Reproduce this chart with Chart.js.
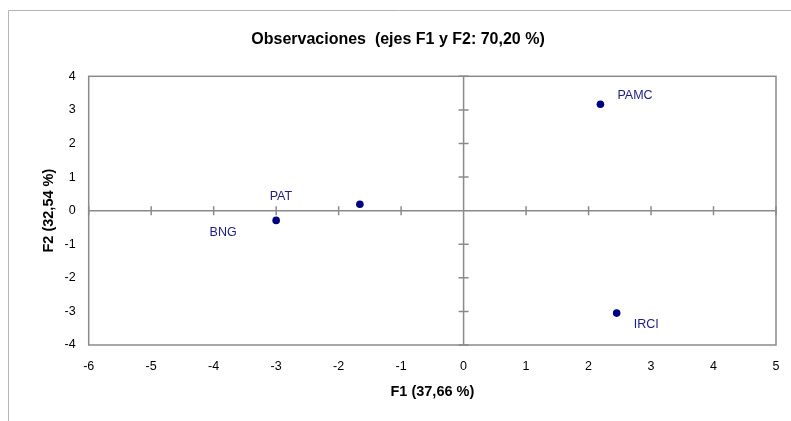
<!DOCTYPE html>
<html>
<head>
<meta charset="utf-8">
<script src="https://cdn.jsdelivr.net/npm/chart.js@4.4.1/dist/chart.umd.min.js"></script>
<style>
  html, body { margin: 0; padding: 0; background: #fff; }
  #wrap { width: 791px; height: 421px; position: relative; }
</style>
</head>
<body>
<div id="wrap"><canvas id="obsChart"></canvas></div>
<script>
// observaciones (coordenadas en F1 / F2)
const obsNames = ["PAT", "BNG", "PAMC", "IRCI"];
const f1Values = [-1.66, -3.0, 2.19, 2.45];
const f2Values = [0.19, -0.29, 3.17, -3.05];
const xTickValues = [-6, -5, -4, -3, -2, -1, 0, 1, 2, 3, 4, 5];
const yTickValues = [-4, -3, -2, -1, 0, 1, 2, 3, 4];

// desplazamiento de las etiquetas respecto al punto (px)
const labelOffsets = [
  { dx: -79, dy: -8, align: "center" },
  { dx: -53, dy: 12, align: "center" },
  { dx: 17, dy: -9, align: "left" },
  { dx: 17, dy: 11, align: "left" },
];

const FONT = "'Liberation Sans', Arial, sans-serif";
const AXIS_GRAY = "#8a8a8a";
const NAVY = "#000080";

// marco exterior, recuadro del área y ejes que cruzan en 0
const framePlugin = {
  id: "framePlugin",
  beforeDraw(chart) {
    const ctx = chart.ctx;
    ctx.save();
    ctx.strokeStyle = "#b4b4b4";
    ctx.lineWidth = 1;
    ctx.beginPath();
    ctx.moveTo(8.5, chart.height);
    ctx.lineTo(8.5, 10.5);
    ctx.lineTo(chart.width, 10.5);
    ctx.stroke();
    ctx.restore();
  },
  beforeDatasetsDraw(chart) {
    const { ctx, chartArea: a, scales } = chart;
    const x0 = scales.x.getPixelForValue(0);
    const y0 = scales.y.getPixelForValue(0);
    ctx.save();
    ctx.strokeStyle = AXIS_GRAY;
    ctx.lineWidth = 1.5;
    ctx.strokeRect(a.left, a.top, a.right - a.left, a.bottom - a.top);
    ctx.beginPath();
    ctx.moveTo(a.left, y0);
    ctx.lineTo(a.right, y0);
    ctx.moveTo(x0, a.top);
    ctx.lineTo(x0, a.bottom);
    xTickValues.forEach((v) => {
      const px = scales.x.getPixelForValue(v);
      ctx.moveTo(px, y0 - 4.5);
      ctx.lineTo(px, y0 + 4.5);
    });
    yTickValues.forEach((v) => {
      const py = scales.y.getPixelForValue(v);
      ctx.moveTo(x0 - 5, py);
      ctx.lineTo(x0 + 5, py);
    });
    ctx.stroke();
    ctx.restore();
  },
  afterDatasetsDraw(chart) {
    const ctx = chart.ctx;
    const meta = chart.getDatasetMeta(0);
    ctx.save();
    ctx.font = "12.5px " + FONT;
    ctx.fillStyle = "#1c1c84";
    ctx.textBaseline = "middle";
    meta.data.forEach((pt, i) => {
      const off = labelOffsets[i];
      ctx.textAlign = off.align;
      ctx.fillText(obsNames[i], pt.x + off.dx, pt.y + off.dy);
    });
    ctx.restore();
  },
};

const points = f1Values.map((x, i) => ({ x: x, y: f2Values[i] }));

new Chart(document.getElementById("obsChart"), {
  type: "scatter",
  data: {
    datasets: [
      {
        label: "Observaciones",
        data: points,
        pointRadius: 3.8,
        pointHoverRadius: 3.8,
        pointBackgroundColor: NAVY,
        pointBorderColor: NAVY,
        pointBorderWidth: 0,
      },
    ],
  },
  options: {
    responsive: true,
    maintainAspectRatio: false,
    animation: false,
    events: [],
    layout: { padding: { left: 20, top: 0, right: 15, bottom: 16 } },
    plugins: {
      legend: { display: false },
      tooltip: { enabled: false },
      title: {
        display: true,
        text: "Observaciones  (ejes F1 y F2: 70,20 %)",
        color: "#000",
        font: { family: FONT, size: 16, weight: "bold" },
        padding: { top: 30.4, bottom: 26.7 },
      },
    },
    scales: {
      x: {
        type: "linear",
        min: -6,
        max: 5,
        afterBuildTicks(scale) {
          scale.ticks = xTickValues.map((v) => ({ value: v }));
        },
        afterFit(scale) {
          scale.height = 60;
          scale.paddingLeft = 0;
          scale.paddingRight = 0;
        },
        grid: { display: false, drawTicks: false },
        border: { display: false },
        ticks: {
          autoSkip: false,
          maxRotation: 0,
          padding: 14,
          color: "#000",
          font: { family: FONT, size: 12.5 },
        },
        title: {
          display: true,
          text: "F1 (37,66 %)",
          color: "#000",
          font: { family: FONT, size: 14.5, weight: "bold" },
          padding: { top: 0, bottom: 4.6 },
        },
      },
      y: {
        type: "linear",
        min: -4,
        max: 4,
        afterBuildTicks(scale) {
          scale.ticks = yTickValues.map((v) => ({ value: v }));
        },
        afterFit(scale) {
          scale.width = 68.7;
          scale.paddingTop = 0;
          scale.paddingBottom = 0;
        },
        grid: { display: false, drawTicks: false },
        border: { display: false },
        ticks: {
          autoSkip: false,
          padding: 13,
          color: "#000",
          font: { family: FONT, size: 12.5 },
        },
        title: {
          display: true,
          text: "F2 (32,54 %)",
          color: "#000",
          font: { family: FONT, size: 14.5, weight: "bold" },
          padding: { top: 20, bottom: 0 },
        },
      },
    },
  },
  plugins: [framePlugin],
});
</script>
</body>
</html>
